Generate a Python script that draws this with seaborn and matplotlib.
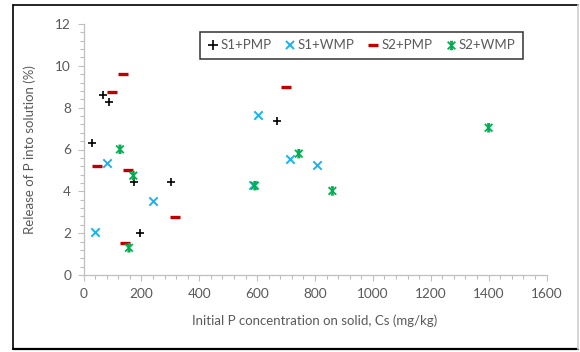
import numpy as np
import pandas as pd
import matplotlib
matplotlib.use("Agg")
import matplotlib.pyplot as plt
from matplotlib.path import Path
from matplotlib.lines import Line2D
from matplotlib.ticker import MultipleLocator
import seaborn as sns

# Release of P versus initial P on the solid, four soil/material combinations
s1_pmp_x = [30, 68, 88, 175, 195, 301, 670]
s1_pmp_y = [6.32, 8.62, 8.25, 4.43, 2.02, 4.43, 7.35]

s1_wmp_x = [40, 82, 241, 604, 585, 713, 807]
s1_wmp_y = [2.04, 5.37, 3.55, 7.63, 4.32, 5.53, 5.24]

s2_pmp_x = [48, 100, 138, 153, 143, 316, 699]
s2_pmp_y = [5.20, 8.73, 9.61, 5.00, 1.52, 2.76, 8.97]

s2_wmp_x = [126, 172, 157, 592, 744, 860, 1400]
s2_wmp_y = [6.01, 4.75, 1.30, 4.27, 5.80, 4.02, 7.04]

series_names = ["S1+PMP", "S1+WMP", "S2+PMP", "S2+WMP"]

sns.set_theme(style="white")
plt.rcParams["font.family"] = ["Lato", "DejaVu Sans"]

W, H = 580, 352
fig = plt.figure(figsize=(W / 100, H / 100), dpi=100)
ax = fig.add_axes([83.5 / W, 1 - 275 / H, (546.5 - 83.5) / W, (275 - 24) / H])

# Star marker: an x with a vertical stroke and short caps
star = Path(
    [(-1, -1), (1, 1), (-1, 1), (1, -1), (0, -0.8), (0, 0.8),
     (-0.4, 1), (0.4, 1), (-0.4, -1), (0.4, -1)],
    [Path.MOVETO, Path.LINETO, Path.MOVETO, Path.LINETO, Path.MOVETO, Path.LINETO,
     Path.MOVETO, Path.LINETO, Path.MOVETO, Path.LINETO],
)

black, blue, red, green = "#000000", "#1AB2F0", "#C00000", "#00B050"

sns.scatterplot(x=s1_pmp_x, y=s1_pmp_y, marker="+", color=black, s=40,
                linewidth=1.2, ax=ax, label=series_names[0], legend=False)
sns.scatterplot(x=s1_wmp_x, y=s1_wmp_y, marker="x", color=blue, s=36,
                linewidth=1.4, ax=ax, label=series_names[1], legend=False)
sns.scatterplot(x=s2_pmp_x, y=s2_pmp_y, marker="_", color=red, s=44,
                linewidth=2.4, ax=ax, label=series_names[2], legend=False)
sns.scatterplot(x=s2_wmp_x, y=s2_wmp_y, marker=star, facecolor="none",
                edgecolor=green, s=30, linewidth=1.3, ax=ax,
                label=series_names[3], legend=False)

ax.set_xlim(0, 1600)
ax.set_ylim(0, 12)
ax.xaxis.set_major_locator(MultipleLocator(200))
ax.xaxis.set_minor_locator(MultipleLocator(40))
ax.yaxis.set_major_locator(MultipleLocator(2))
ax.yaxis.set_minor_locator(MultipleLocator(0.4))

gray_txt = "#595959"
axis_col = "#BFBFBF"
for side in ["top", "right"]:
    ax.spines[side].set_visible(False)
for side in ["left", "bottom"]:
    ax.spines[side].set_color(axis_col)
    ax.spines[side].set_linewidth(0.9)

ax.tick_params(axis="both", which="major", direction="out", length=4,
               width=0.8, color=axis_col, labelsize=9.8, labelcolor=gray_txt, pad=5,
               left=True, bottom=True)
ax.tick_params(axis="both", which="minor", direction="out", length=3,
               width=0.8, color=axis_col, left=True, bottom=True)

ax.set_xlabel("Initial P concentration on solid, Cs (mg/kg)", fontsize=9.5,
              color=gray_txt, labelpad=11)
ax.set_ylabel("Release of P into solution (%)", fontsize=9.5,
              color=gray_txt, labelpad=14)

handles = [
    Line2D([], [], linestyle="none", marker="+", color=black, markersize=6.5, markeredgewidth=1.2),
    Line2D([], [], linestyle="none", marker="x", color=blue, markersize=6, markeredgewidth=1.4),
    Line2D([], [], linestyle="none", marker="_", color=red, markersize=6.5, markeredgewidth=2.4),
    Line2D([], [], linestyle="none", marker=star, markerfacecolor="none",
           markeredgecolor=green, markersize=5.5, markeredgewidth=1.3),
]
leg = ax.legend(handles, series_names, ncol=4, loc="upper left",
                bbox_to_anchor=(200 / W, 1 - 32 / H), bbox_transform=fig.transFigure,
                frameon=True, fancybox=False, shadow=False, fontsize=9.5,
                handlelength=0.8, handletextpad=0.2, columnspacing=1.0,
                borderpad=0.55, borderaxespad=0)
leg.get_frame().set_edgecolor("#000000")
leg.get_frame().set_linewidth(1.1)
for t in leg.get_texts():
    t.set_color(gray_txt)

# Outer border of the chart area
fig.add_artist(Line2D([13 / W, 13 / W], [1 - 5 / H, 1 - 349 / H], transform=fig.transFigure,
                      color="#000000", linewidth=1.2))
fig.add_artist(Line2D([13 / W, 578 / W], [1 - 5 / H, 1 - 5 / H], transform=fig.transFigure,
                      color="#000000", linewidth=1.2))
fig.add_artist(Line2D([13 / W, 578 / W], [1 - 349 / H, 1 - 349 / H], transform=fig.transFigure,
                      color="#000000", linewidth=1.6))
fig.add_artist(Line2D([578 / W, 578 / W], [1 - 5 / H, 1 - 349 / H], transform=fig.transFigure,
                      color="#D0D0D0", linewidth=1.2))

fig.savefig("out.png", dpi=100)
